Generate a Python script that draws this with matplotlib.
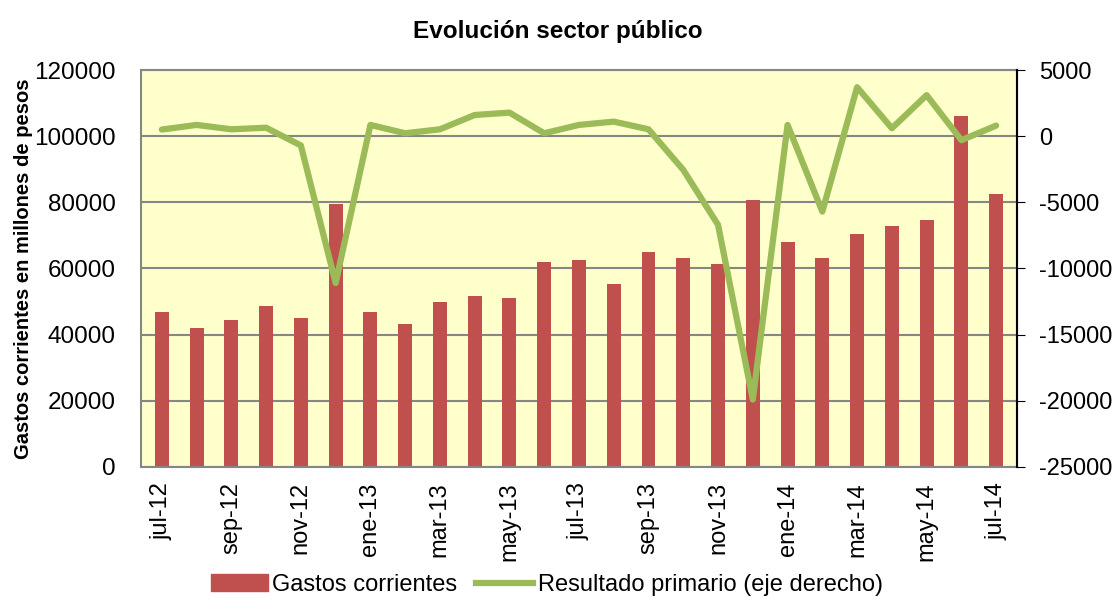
import numpy as np
import matplotlib.pyplot as plt
from matplotlib.lines import Line2D
from matplotlib.patches import Patch

meses = ['jul-12', 'ago-12', 'sep-12', 'oct-12', 'nov-12', 'dic-12',
         'ene-13', 'feb-13', 'mar-13', 'abr-13', 'may-13', 'jun-13',
         'jul-13', 'ago-13', 'sep-13', 'oct-13', 'nov-13', 'dic-13',
         'ene-14', 'feb-14', 'mar-14', 'abr-14', 'may-14', 'jun-14', 'jul-14']
gastos = [46900, 42000, 44400, 48700, 45000, 79500,
          47000, 43200, 49900, 51700, 51100, 62000,
          62600, 55300, 65000, 63200, 61400, 80700,
          68000, 63200, 70400, 72800, 74700, 106100, 82500]
resultado = [500, 850, 520, 640, -700, -11100,
             850, 220, 520, 1600, 1780, 220,
             850, 1100, 520, -2550, -6700, -19900,
             850, -5700, 3700, 600, 3100, -300, 800]

plt.rcParams['font.family'] = ['Liberation Sans', 'DejaVu Sans']
plt.rcParams['axes.unicode_minus'] = False

x = np.arange(len(meses))
fig = plt.figure(figsize=(11.16, 6.01), dpi=100)
ax = fig.add_axes([0.1263, 0.223, 0.785, 0.6605])
ax.set_facecolor('#FFFFCC')
ax.bar(x, gastos, width=0.4, color='#C0504D', zorder=2)
ax.set_ylim(0, 120000)
ax.set_yticks(np.arange(0, 120001, 20000))
ax.set_xlim(-0.6, len(meses) - 0.4)
ax.set_xticks(x[::2])
ax.set_xticklabels(meses[::2], rotation=90, fontsize=17)
ax.tick_params(axis='y', labelsize=17.5, length=0, pad=18)
ax.tick_params(axis='x', length=0, pad=11)
ax.grid(axis='y', color='#868686', linewidth=1.5, zorder=0)
for s in ax.spines.values():
    s.set_color('#868686')
    s.set_linewidth(1.5)
ax.set_ylabel('Gastos corrientes en millones de pesos', fontsize=14.5,
              fontweight='bold', labelpad=1)

ax2 = ax.twinx()
ax2.plot(x, resultado, color='#9BBB59', linewidth=4.5, zorder=3,
         solid_capstyle='round')
ax2.set_ylim(-25000, 5000)
ax2.set_yticks(np.arange(-25000, 5001, 5000))
ax2.tick_params(axis='y', labelsize=17, length=6, direction='out', color='black', pad=10)
ax2.spines['right'].set_color('black')
ax2.spines['right'].set_linewidth(1.5)
for k in ['top', 'left', 'bottom']:
    ax2.spines[k].set_visible(False)

fig.suptitle('Evolución sector público', fontsize=17.5, fontweight='bold', y=0.967)

handles = [Patch(color='#C0504D', label='Gastos corrientes'),
           Line2D([0], [0], color='#9BBB59', linewidth=4.5, label='Resultado primario (eje derecho)')]
fig.legend(handles=handles, loc='center', ncol=2, frameon=False,
           fontsize=17, bbox_to_anchor=(0.49, 0.027),
           handlelength=2.4, handletextpad=0.2, columnspacing=0.8,
           borderpad=0.1)

fig.savefig('out.png', dpi=100)
